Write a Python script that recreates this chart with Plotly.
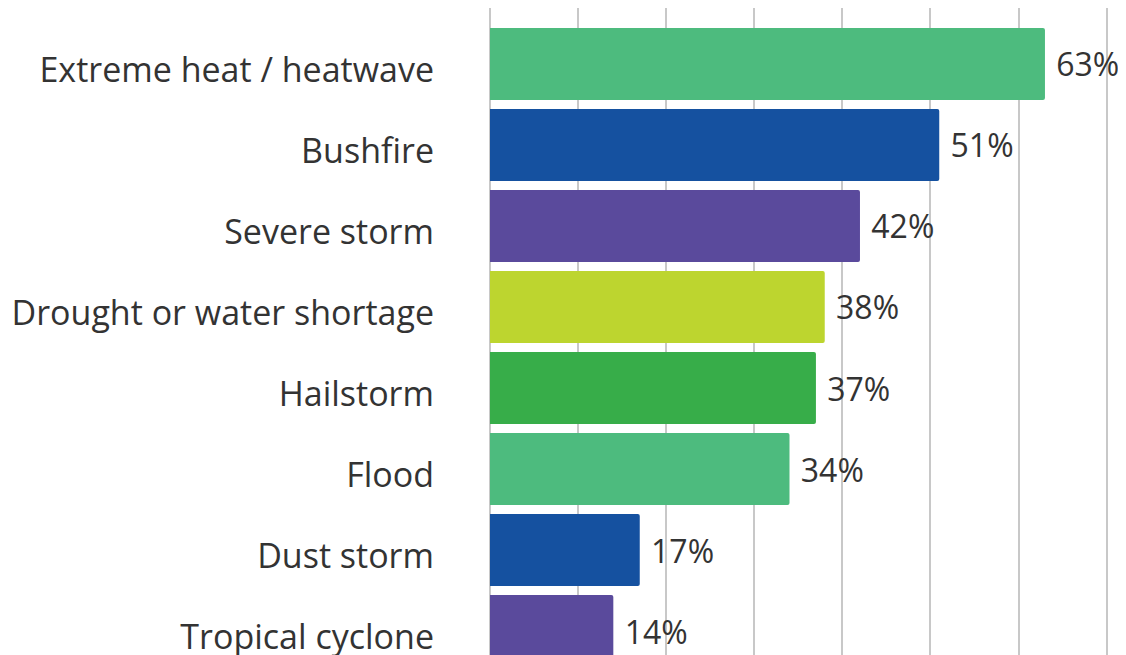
import plotly.graph_objects as go

categories = ["Extreme heat / heatwave", "Bushfire", "Severe storm", "Drought or water shortage",
              "Hailstorm", "Flood", "Dust storm", "Tropical cyclone"]
values = [63, 51, 42, 38, 37, 34, 17, 14]
colors = ["#4DBB7E", "#1551A0", "#5A4A9C", "#BDD52F", "#37AD49", "#4DBB7E", "#1551A0", "#5A4A9C"]
labels = [f" {v}%" for v in values]

fig = go.Figure(go.Bar(
    x=values, y=categories, orientation="h",
    marker=dict(color=colors, line=dict(width=0), cornerradius=2),
    text=labels, textposition="outside", cliponaxis=False,
    textfont=dict(family="Open Sans", size=32, color="#333333"),
    width=0.89,
))

fig.update_layout(
    width=1126, height=655,
    margin=dict(l=482, r=8, t=0, b=8),
    paper_bgcolor="white", plot_bgcolor="white",
    showlegend=False,
    font=dict(family="Open Sans", color="#333333"),
)
fig.update_xaxes(range=[0, 72.2], dtick=10, showgrid=True, gridcolor="#c8c8c8", gridwidth=2,
                 zeroline=True, zerolinecolor="#c8c8c8", zerolinewidth=2,
                 showticklabels=False, fixedrange=True)
fig.update_yaxes(categoryorder="array", categoryarray=categories,
                 range=[7.296, -0.691], showgrid=False,
                 tickfont=dict(family="Open Sans", size=34, color="#333333"),
                 ticklabelstandoff=55, ticklabelshift=-6, ticks="", fixedrange=True)

fig.write_html("out.html")
